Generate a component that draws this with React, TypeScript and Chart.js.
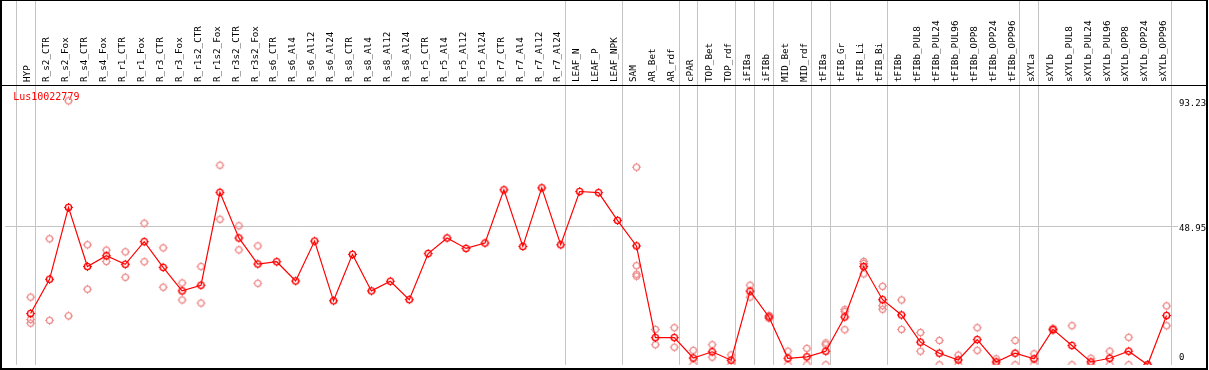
import React, { useEffect, useRef } from 'react';
import { Chart, registerables } from 'chart.js';

Chart.register(...registerables);

const categories = [
  'HYP', 'R_s2_CTR', 'R_s2_Fox', 'R_s4_CTR', 'R_s4_Fox', 'R_r1_CTR', 'R_r1_Fox', 'R_r3_CTR', 'R_r3_Fox',
  'R_r1s2_CTR', 'R_r1s2_Fox', 'R_r3s2_CTR', 'R_r3s2_Fox', 'R_s6_CTR', 'R_s6_Al4', 'R_s6_Al12', 'R_s6_Al24',
  'R_s8_CTR', 'R_s8_Al4', 'R_s8_Al12', 'R_s8_Al24', 'R_r5_CTR', 'R_r5_Al4', 'R_r5_Al12', 'R_r5_Al24',
  'R_r7_CTR', 'R_r7_Al4', 'R_r7_Al12', 'R_r7_Al24', 'LEAF_N', 'LEAF_P', 'LEAF_NPK', 'SAM', 'AR_Bet', 'AR_rdf',
  'cPAR', 'TOP_Bet', 'TOP_rdf', 'iFIBa', 'iFIBb', 'MID_Bet', 'MID_rdf', 'tFIBa', 'tFIB_Gr', 'tFIB_Li', 'tFIB_Bi',
  'tFIBb', 'tFIBb_PUL8', 'tFIBb_PUL24', 'tFIBb_PUL96', 'tFIBb_OPP8', 'tFIBb_OPP24', 'tFIBb_OPP96', 'sXYLa',
  'sXYLb', 'sXYLb_PUL8', 'sXYLb_PUL24', 'sXYLb_PUL96', 'sXYLb_OPP8', 'sXYLb_OPP24', 'sXYLb_OPP96',
];

const meanValues = [
  18.1, 30.2, 55.6, 34.7, 38.5, 35.5, 43.5, 34.4, 26.1, 28.1,
  60.9, 44.8, 35.6, 36.4, 29.6, 43.7, 22.6, 39.0, 26.1, 29.5,
  23.0, 39.3, 44.8, 41.1, 43.0, 61.8, 41.8, 62.5, 42.4, 61.2,
  60.8, 51.0, 42.0, 9.6, 9.6, 2.4, 4.6, 1.6, 26.0, 16.9,
  2.3, 2.8, 4.8, 16.9, 34.7, 23.0, 17.6, 8.0, 4.1, 1.7,
  8.9, 1.0, 4.1, 2.1, 12.5, 6.8, 1.0, 2.3, 4.8, 0.0, 17.4,
];

const N = null;
const rep1 = [
  23.9, 44.5, 93.23, 42.4, 40.5, 39.9, 50.0, 41.3, 28.9, 34.7,
  70.5, 49.1, 42.0, N, N, N, N, N, N, N,
  N, N, N, N, N, N, N, N, N, N,
  N, N, 69.8, 12.5, 13.1, 5.1, 7.1, 3.5, 28.1, 17.4,
  4.8, 5.8, 7.7, 19.5, 36.5, 27.7, 22.9, 11.4, 8.6, 3.4,
  13.1, 2.1, 8.6, 3.9, 12.9, 13.8, 2.3, 4.8, 9.7, 0.0, 20.8,
];
const rep2 = [
  16.0, 15.7, 17.3, 26.7, 36.5, 30.9, 36.4, 27.4, 22.9, 21.8,
  51.4, 40.6, 28.8, N, N, N, N, N, N, N,
  N, N, N, N, N, N, N, N, N, N,
  N, N, 35.0, 7.1, 6.2, 0.0, 2.7, 0.0, 23.9, 16.4,
  0.0, 0.0, 7.1, 18.8, 35.8, 20.9, 12.5, 4.8, 0.0, 0.0,
  5.1, 0.0, 0.0, 0.0, 12.1, 0.0, 0.0, 0.0, 0.0, 0.0, 13.8,
];
const rep3 = [
  14.7, N, N, N, N, N, N, N, N, N,
  N, N, N, N, N, N, N, N, N, N,
  N, N, N, N, N, N, N, N, N, N,
  N, N, 32.0, N, N, N, N, N, N, N,
  N, N, 0.0, 12.4, 32.1, 19.6, N, N, N, N,
  N, N, N, N, N, N, N, N, N, N, N,
];
const rep4 = [
  N, N, N, N, N, N, N, N, N, N,
  N, N, N, N, N, N, N, N, N, N,
  N, N, N, N, N, N, N, N, N, N,
  N, N, 31.3, N, N, N, N, N, N, N,
  N, N, N, N, N, N, N, N, N, N,
  N, N, N, N, N, N, N, N, N, N, N,
];

const yTickValues = [0, 48.95, 93.23];
const yGridValues = [48.95];
const yMax = 98.47;
const groupStarts = [0, 1, 29, 32, 35, 36, 38, 39, 40, 42, 43, 46, 53, 54, 61];
const titleText = 'Lus10022779';

const GRAY = '#c4c4c4';
const RED = '#ff0000';
const PINK = '#ee8c8c';
const FONT = '"DejaVu Sans Mono", monospace';

const boundaries = groupStarts.map((s) => s - 0.75);
const xTickValues = [...categories.map((_, i) => i), ...boundaries].sort((a, b) => a - b);

function makeMarker(color: string, lw: number) {
  const c = document.createElement('canvas');
  c.width = 11;
  c.height = 11;
  const g = c.getContext('2d')!;
  g.strokeStyle = color;
  g.fillStyle = color;
  g.lineWidth = lw;
  g.beginPath();
  g.arc(5.5, 5.5, 3.1, 0, Math.PI * 2);
  g.stroke();
  g.fillRect(5, 1, 1, 1);
  g.fillRect(5, 9, 1, 1);
  g.fillRect(1, 5, 1, 1);
  g.fillRect(9, 5, 1, 1);
  return c;
}

const framePlugin = {
  id: 'frame',
  beforeDraw(chart: any) {
    const ys = chart.scales.y;
    const items = ys.getLabelItems();
    items.forEach((it: any) => {
      const tr = it.options.translation;
      const limit = ys.bottom - 7.3;
      if (tr[1] > limit) it.options.translation = [tr[0], limit];
    });
  },
  beforeDatasetsDraw(chart: any) {
    const { ctx, chartArea } = chart;
    ctx.save();
    ctx.font = `10px ${FONT}`;
    ctx.fillStyle = RED;
    ctx.textBaseline = 'middle';
    ctx.textAlign = 'left';
    ctx.fillText(titleText, chartArea.left + 8, chartArea.top + 11);
    ctx.restore();
  },
  afterDraw(chart: any) {
    const { ctx, chartArea } = chart;
    ctx.save();
    ctx.fillStyle = '#000';
    ctx.fillRect(0, 0, 1208, 1);
    ctx.fillRect(0, chartArea.top - 1, 1208, 1);
    ctx.fillRect(0, 0, 2, 370);
    ctx.fillRect(1206, 0, 2, 370);
    ctx.fillRect(0, 368, 1208, 2);
    ctx.restore();
  },
};

export default function App() {
  const ref = useRef<HTMLCanvasElement>(null);

  useEffect(() => {
    const mainMarker = makeMarker(RED, 1.4);
    const repMarker = makeMarker(PINK, 1.3);
    const repPoints: { x: number; y: number }[] = [];
    [rep1, rep2, rep3, rep4].forEach((arr) => {
      arr.forEach((v, i) => {
        if (v !== null) repPoints.push({ x: i, y: v as number });
      });
    });

    const chart = new Chart(ref.current!, {
      type: 'line',
      data: {
        datasets: [
          {
            label: titleText,
            data: meanValues.map((v, i) => ({ x: i, y: v })),
            borderColor: RED,
            borderWidth: 1.2,
            pointStyle: mainMarker as any,
            pointRadius: 4,
            tension: 0,
            order: 0,
          },
          {
            label: 'replicates',
            data: repPoints,
            showLine: false,
            pointStyle: repMarker as any,
            pointRadius: 4,
            borderColor: PINK,
            order: 1,
          },
        ],
      },
      plugins: [framePlugin],
      options: {
        responsive: false,
        animation: false,
        devicePixelRatio: 1,
        events: [],
        layout: { padding: { left: 1, right: 2, top: 0, bottom: 1 } },
        plugins: {
          legend: { display: false },
          tooltip: { enabled: false },
          title: { display: false },
        },
        scales: {
          x: {
            type: 'linear',
            position: 'top',
            min: -1.342,
            max: 60.605,
            afterBuildTicks: (s: any) => {
              s.ticks = xTickValues.map((v) => ({ value: v }));
            },
            afterFit: (s: any) => {
              s.height = 86;
              s.paddingLeft = 0;
              s.paddingRight = 0;
            },
            ticks: {
              autoSkip: false,
              minRotation: 90,
              maxRotation: 90,
              padding: -82,
              labelOffset: 8.5,
              color: '#000',
              font: { family: FONT, size: 9.3 },
              callback: (v: any) => (Number.isInteger(v) ? categories[v] : ''),
            },
            grid: {
              drawOnChartArea: true,
              drawTicks: true,
              tickLength: 86,
              color: (c: any) => (c.tick && !Number.isInteger(c.tick.value) ? GRAY : 'rgba(0,0,0,0)'),
              lineWidth: (c: any) => (c.tick && !Number.isInteger(c.tick.value) ? 1 : 0),
            },
            border: { display: false },
          },
          y: {
            type: 'linear',
            position: 'right',
            min: 0,
            max: yMax,
            afterBuildTicks: (s: any) => {
              s.ticks = yTickValues.map((v) => ({ value: v }));
            },
            afterFit: (s: any) => {
              s.width = 29;
              s.paddingTop = 0;
              s.paddingBottom = 0;
            },
            ticks: {
              color: '#000',
              padding: 1,
              labelOffset: 2.5,
              font: { family: FONT, size: 9 },
              callback: (v: any) => String(v),
            },
            grid: {
              drawTicks: false,
              color: (c: any) => (c.tick && yGridValues.includes(c.tick.value) ? GRAY : 'rgba(0,0,0,0)'),
              lineWidth: (c: any) => (c.tick && yGridValues.includes(c.tick.value) ? 1 : 0),
            },
            border: { display: false },
          },
        },
      },
    });
    return () => chart.destroy();
  }, []);

  return (
    <canvas
      ref={ref}
      width={1209}
      height={370}
      style={{ position: 'absolute', left: 0, top: 0, width: 1209, height: 370, display: 'block' }}
    />
  );
}
